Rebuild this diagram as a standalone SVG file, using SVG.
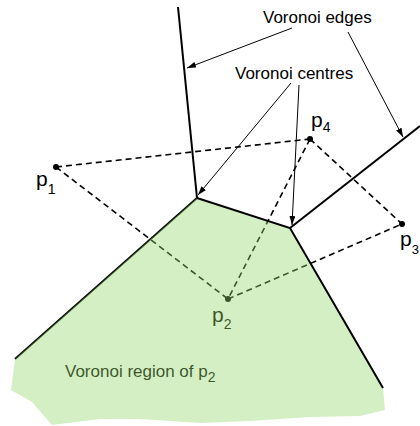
<svg xmlns="http://www.w3.org/2000/svg" width="420" height="426" viewBox="0 0 420 426">
<defs>
<style>
text{font-family:"Liberation Sans",Arial,sans-serif;fill:#000}
.lbl{font-size:17px}
.pt{font-size:21px}
.sub{font-size:14px}
.edge{stroke:#000;stroke-width:2;fill:none}
.dash{stroke:#000;stroke-width:1.6;stroke-dasharray:6 4;fill:none}
.call{stroke:#000;stroke-width:1;fill:none;marker-end:url(#ah)}
</style>
<marker id="ah" viewBox="0 0 9 6" refX="9" refY="3" markerWidth="9" markerHeight="6" markerUnits="userSpaceOnUse" orient="auto">
<path d="M0,0 L9,3 L0,6 z" fill="#000"/>
</marker>
</defs>
<rect width="420" height="426" fill="#fff"/>
<g id="connectors">
<line class="dash" x1="56" y1="167" x2="310" y2="139"/>
<line class="dash" x1="56" y1="167" x2="228" y2="299"/>
<line class="dash" x1="310" y1="139" x2="228" y2="299"/>
<line class="dash" x1="310" y1="139" x2="402" y2="224"/>
<line class="dash" x1="228" y1="299" x2="402" y2="224"/>
<line class="edge" x1="178" y1="7" x2="197" y2="198"/>
<line class="edge" x1="197" y1="198" x2="15" y2="359"/>
</g>
<g id="p1"><circle cx="56" cy="167" r="3"/><text class="pt" x="36" y="186">p<tspan class="sub" dx="0" dy="8">1</tspan></text></g>
<g id="p2"><circle cx="228" cy="299" r="3"/><text class="pt" x="212" y="322">p<tspan class="sub" dy="7">2</tspan></text></g>
<g id="p3"><circle cx="402" cy="224" r="3"/><text class="pt" x="400" y="246">p<tspan style="font-size:13px" dy="8">3</tspan></text></g>
<g id="p4"><circle cx="310" cy="139" r="3"/><text class="pt" x="311" y="127">p<tspan class="sub" dy="5">4</tspan></text></g>
<g id="region-label"><text class="lbl" x="65" y="377">Voronoi region of p<tspan class="sub" dy="5">2</tspan></text></g>
<g id="region">
<polygon points="197,198 290,228 383,388 385,410 360,416 310,417 250,421 200,423 140,419 100,419 52,425 32,402 11,390 15,359" fill="#96d86c" fill-opacity="0.4"/>
</g>
<g id="edges">
<polyline class="edge" points="197,198 290,228 383,388"/>
<line class="edge" x1="290" y1="228" x2="420" y2="126"/>
</g>
<g id="label-edges">
<text class="lbl" x="263" y="23">Voronoi edges</text>
</g>
<g id="label-centres">
<text class="lbl" x="235" y="79">Voronoi centres</text>
</g>
<g id="callouts">
<line class="call" x1="292" y1="28" x2="187" y2="68"/>
<line class="call" x1="348" y1="32" x2="403" y2="137"/>
<line class="call" x1="291" y1="83" x2="198" y2="195"/>
<line class="call" x1="299" y1="85" x2="292" y2="225"/>
</g>
</svg>
